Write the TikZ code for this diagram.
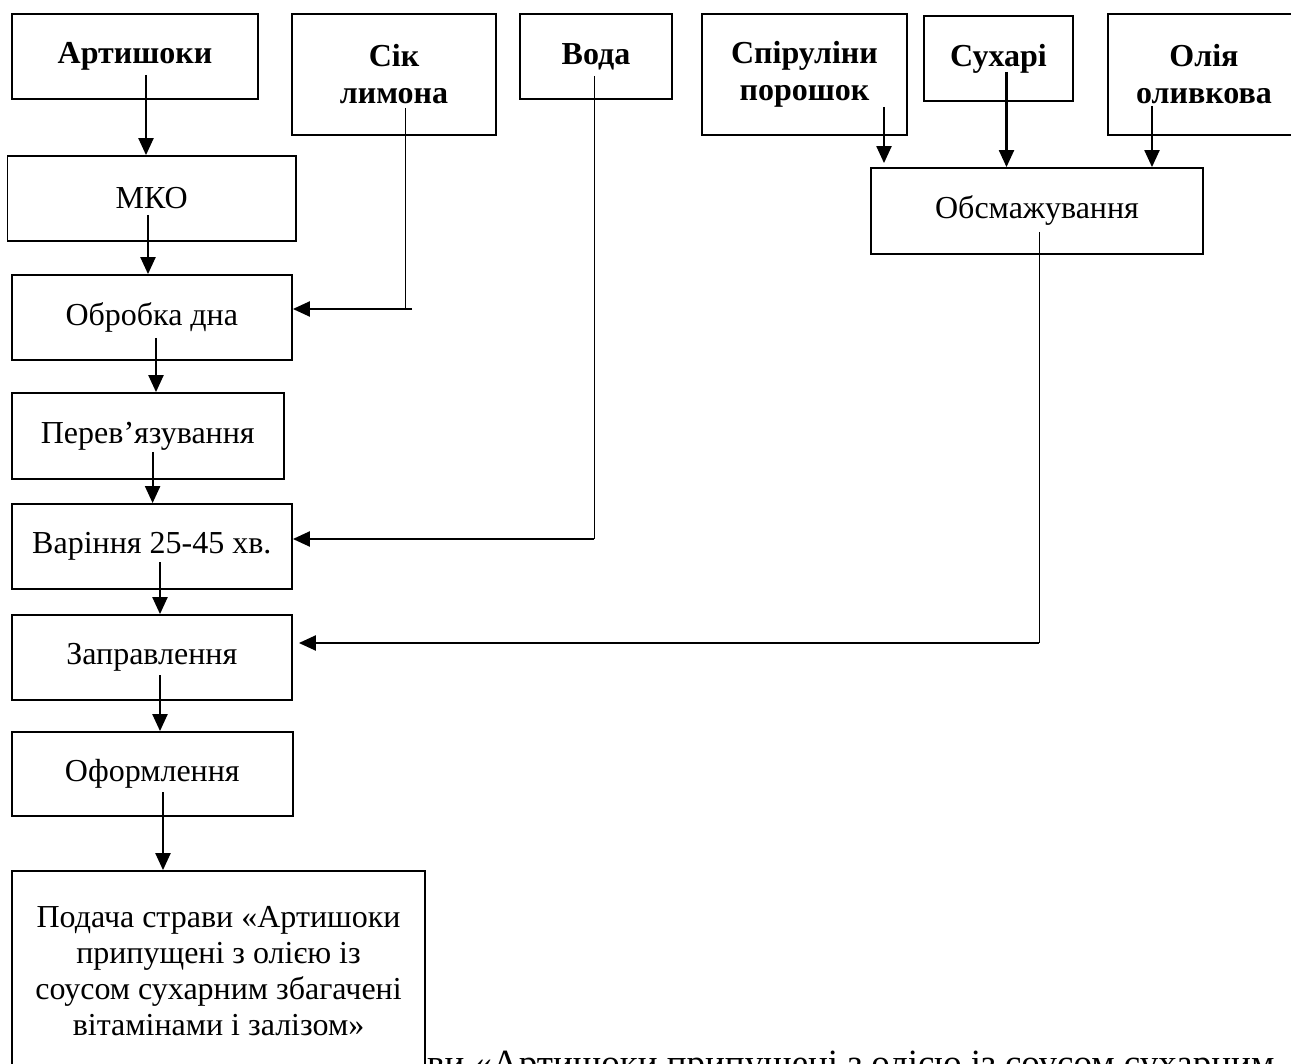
\documentclass[tikz,border=0pt]{standalone}
\usepackage{fontspec}
\setmainfont{Liberation Serif}
\usetikzlibrary{arrows.meta}
\begin{document}
\begin{tikzpicture}[x=1pt,y=-1pt,
  box/.style={draw, line width=1.8pt, fill=white, inner sep=0pt, align=center,
    font=\fontsize{32}{37}\selectfont},
  ingr/.style={box, font=\fontsize{32}{37}\selectfont\bfseries},
  arr/.style={line width=2.2pt, -{Triangle[length=17pt,width=15pt]}},
  feed/.style={line width=1pt},
]
\useasboundingbox (0,0) rectangle (1291,1064);
\clip (0,0) rectangle (1291,1064);

% caption line running under the last box
\node[anchor=base west, inner sep=0pt, font=\fontsize{37}{42}\selectfont] (caption)
  at (427,1075) {ви «Артишоки припущені з олією із соусом сухарним};

% raw materials
\node[ingr, minimum width=246pt, minimum height=85pt]  (art)   at (135,56.5)   {Артишоки};
\node[ingr, minimum width=204pt, minimum height=121pt] (sik)   at (394,74.5)   {Сік\\лимона};
\node[ingr, minimum width=152pt, minimum height=85pt]  (voda)  at (596,56.5)   {Вода};
\node[ingr, minimum width=205pt, minimum height=121pt] (spir)  at (804.5,74.5) {Спіруліни\\порошок};
\node[ingr, minimum width=149pt, minimum height=85pt]  (such)  at (998.5,58.5) {Сухарі};
\node[ingr, minimum width=192pt, minimum height=121pt] (oliya) at (1204,74.5)   {Олія\\оливкова};

% process steps
\node[box, minimum width=332pt,   minimum height=86pt] (obsm)  at (1037,211)    {Обсмажування};
\node[box, minimum width=288.5pt, minimum height=85pt] (mko)   at (151.75,198.5) {МКО};
\node[box, minimum width=280.4pt, minimum height=85pt] (obr)   at (151.8,317.5) {Обробка дна};
\node[box, minimum width=272.4pt, minimum height=86pt] (perev) at (147.8,436)   {Перев’язування};
\node[box, minimum width=280.4pt, minimum height=85pt] (var)   at (151.8,546.5) {Варіння 25-45 хв.};
\node[box, minimum width=280.4pt, minimum height=85pt] (zapr)  at (151.8,657.5) {Заправлення};
\node[box, minimum width=281pt,   minimum height=84pt] (oform) at (152.3,774)   {Оформлення};
\node[box, minimum width=413pt,   minimum height=200pt, font=\fontsize{32}{36}\selectfont] (podacha)
  at (218.5,971) {Подача страви «Артишоки\\припущені з олією із\\соусом сухарним збагачені\\вітамінами і залізом»};

% outlets of the boxes
\coordinate (art-out)   at (146,75);
\coordinate (mko-out)   at (148,215);
\coordinate (obr-out)   at (156,338);
\coordinate (perev-out) at (152.6,452);
\coordinate (var-out)   at (160,562);
\coordinate (zapr-out)  at (160,675);
\coordinate (oform-out) at (163,792);
\coordinate (spir-out)  at (884,107);
\coordinate (such-out)  at (1006.5,72);
\coordinate (oliya-out) at (1152,106);
\coordinate (sik-out)   at (405,108);
\coordinate (sik-turn)  at (405,309);
\coordinate (sik-end)   at (412,309);
\coordinate (voda-out)  at (594,76);
\coordinate (voda-turn) at (594,539);
\coordinate (obsm-out)  at (1039,232);
\coordinate (obsm-turn) at (1039,643);

% main line
\draw[arr] (art-out)   -- (art-out   |- mko.north);
\draw[arr] (mko-out)   -- (mko-out   |- obr.north);
\draw[arr] (obr-out)   -- (obr-out   |- perev.north);
\draw[arr] (perev-out) -- (perev-out |- var.north);
\draw[arr] (var-out)   -- (var-out   |- zapr.north);
\draw[arr] (zapr-out)  -- (zapr-out  |- oform.north);
\draw[arr] (oform-out) -- (oform-out |- podacha.north);

% frying of the crumbs
\draw[arr, shorten >=4pt] (spir-out) -- (spir-out |- obsm.north);
\draw[arr] (such-out)  -- (such-out  |- obsm.north);
\draw[arr] (oliya-out) -- (oliya-out |- obsm.north);

% side feeds
\draw[feed] (sik-out) -- (sik-turn);
\draw[arr]  (sik-end) -- (sik-end -| obr.east);
\draw[feed] (voda-out) -- (voda-turn);
\draw[arr]  (voda-turn) -- (voda-turn -| var.east);
\draw[feed] (obsm-out) -- (obsm-turn);
\draw[arr, shorten >=6pt] (obsm-turn) -- (obsm-turn -| zapr.east);
\end{tikzpicture}
\end{document}
